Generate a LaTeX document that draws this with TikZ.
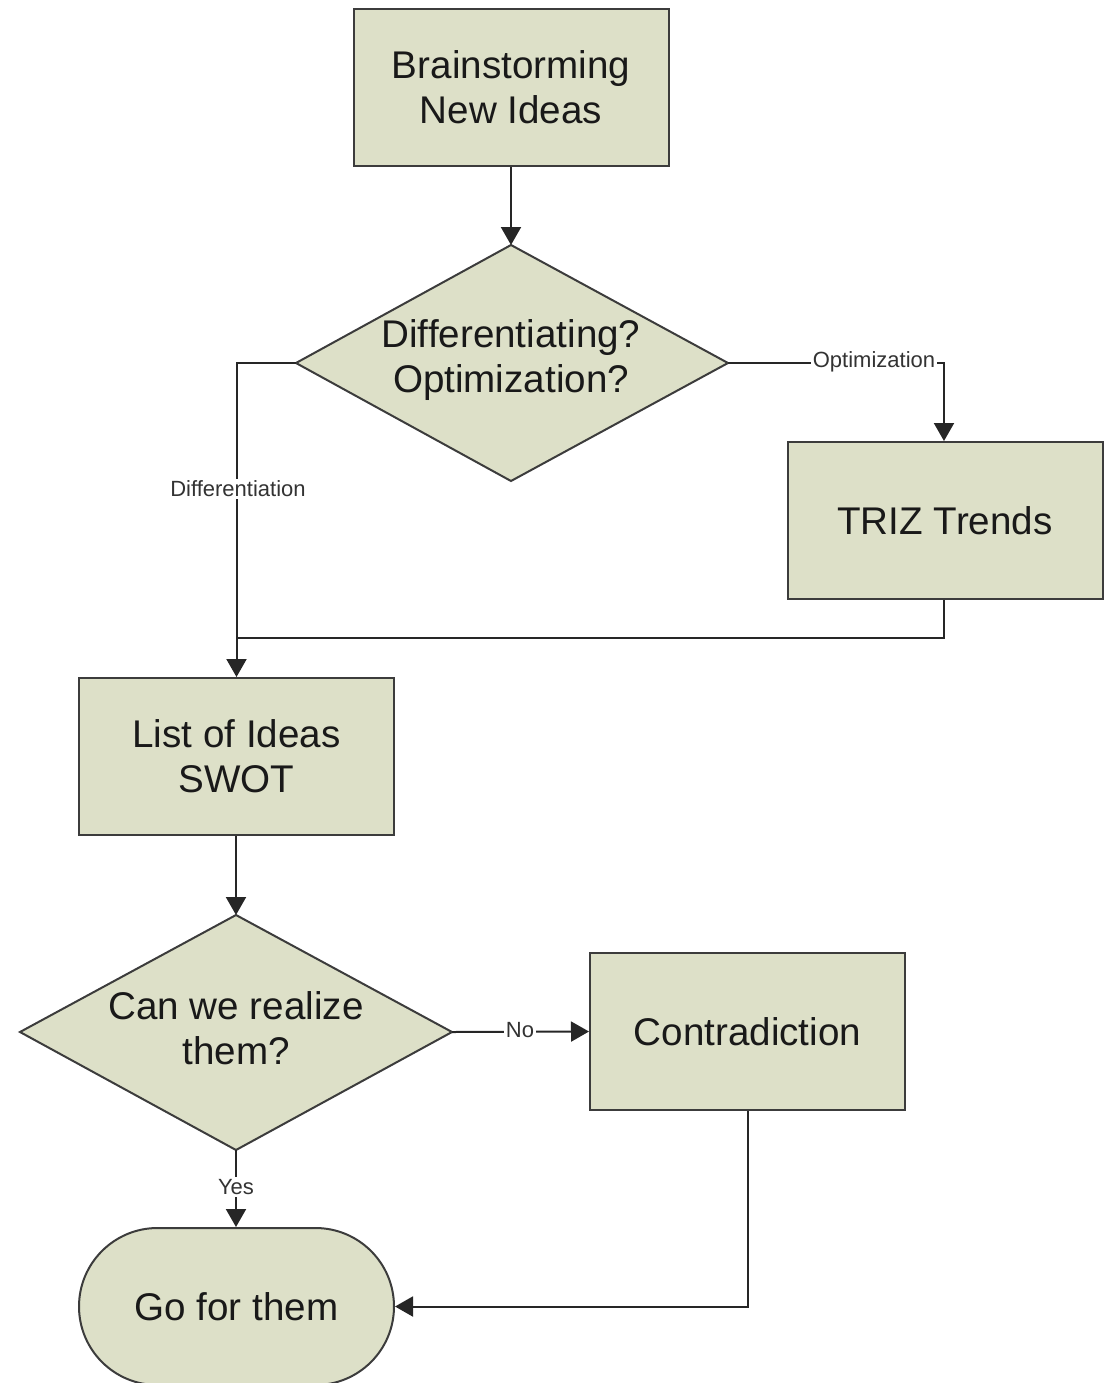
\documentclass[tikz,border=0pt]{standalone}
\usepackage{fontspec}
\setmainfont{Liberation Sans}
\usetikzlibrary{arrows.meta}
\definecolor{boxfill}{RGB}{221,224,200}
\definecolor{boxline}{RGB}{60,60,60}
\begin{document}
\begin{tikzpicture}[x=0.5pt,y=-0.5pt,
  proc/.style={draw=boxline, line width=1pt, fill=boxfill, minimum width=157.5pt, minimum height=78.5pt,
    align=center, font=\fontsize{19.3}{22.5}\selectfont, text=black!90, inner sep=0pt},
  decide/.style={align=center, font=\fontsize{19.3}{22.5}\selectfont, text=black!90},
  diamondshape/.style={draw=boxline, line width=1pt, fill=boxfill},
  term/.style={proc, rounded corners=39.25pt},
  conn/.style={line width=1pt, draw=black!85},
  arr/.style={conn, -{Triangle[length=9pt, width=10pt]}},
  lbl/.style={fill=white, inner sep=1pt, font=\fontsize{11}{13}\selectfont, text=black!80}]
\useasboundingbox (0,0) rectangle (1109,1383);

% process boxes
\node[proc] (brain) at (511,87.5) {Brainstorming\\New Ideas};
\node[proc] (triz) at (945,520.5) {TRIZ Trends};
\node[proc] (list) at (236.5,756.5) {List of Ideas\\SWOT};
\node[proc] (contra) at (747.5,1031.5) {Contradiction};
\node[term] (go) at (236.5,1306.5) {Go for them};

% decision diamonds with their corner points
\coordinate (d1t) at (511,245);
\coordinate (d1r) at (728,363);
\coordinate (d1b) at (511,481);
\coordinate (d1l) at (296,363);
\draw[diamondshape] (d1t) -- (d1r) -- (d1b) -- (d1l) -- cycle;
\node[decide] (d1) at (511,360) {Differentiating?\\Optimization?};

\coordinate (d2t) at (236,915);
\coordinate (d2r) at (452,1032);
\coordinate (d2b) at (236,1150);
\coordinate (d2l) at (20,1032);
\draw[diamondshape] (d2t) -- (d2r) -- (d2b) -- (d2l) -- cycle;
\node[decide] (d2) at (236,1028) {Can we realize\\them?};

% connectors
\coordinate (optbend) at (944,363);
\coordinate (join) at (236,638);
\draw[arr] (brain.south) -- (d1t);
\draw[arr] (d1r) -- (optbend) -- (triz.north -| optbend);
\node[lbl] (optlbl) at (874,362) {Optimization};
\draw[arr] (d1l) -| (list.north);
\node[lbl] (difflbl) at (238,489) {Differentiation};
\draw[conn] (triz.south -| optbend) |- (join);
\draw[arr] (list.south -| d2t) -- (d2t);
\draw[arr] (d2r) -- (contra.west);
\node[lbl] (nolbl) at (520,1030) {No};
\draw[arr] (d2b) -- (go.north -| d2b);
\node[lbl] (yeslbl) at (236,1187) {Yes};
\draw[arr] (contra.south) |- (go.east);
\end{tikzpicture}
\end{document}
